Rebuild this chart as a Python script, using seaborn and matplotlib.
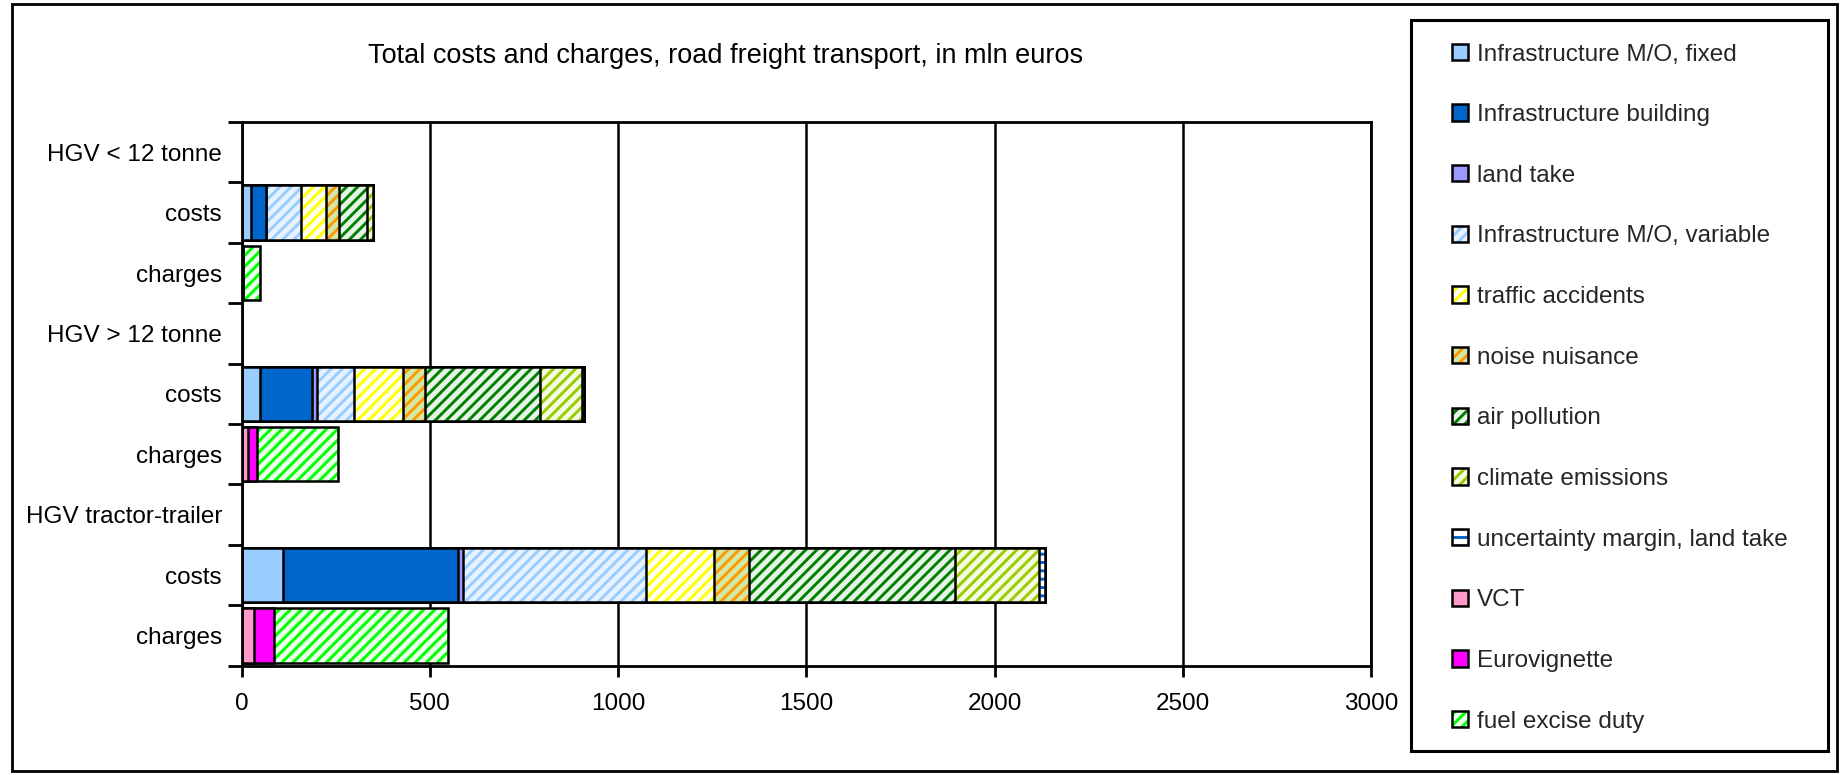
import numpy as np
import pandas as pd
import matplotlib
matplotlib.use("Agg")
import matplotlib.pyplot as plt
import seaborn as sns
from matplotlib.patches import Patch, Rectangle

# ---------------- data ----------------
row_labels = ["HGV < 12 tonne", "costs", "charges",
              "HGV > 12 tonne", "costs", "charges",
              "HGV tractor-trailer", "costs", "charges"]
row_keys = [f"r{i}" for i in range(len(row_labels))]
bar_rows = ["r1", "r2", "r4", "r5", "r7", "r8"]

series = ["Infrastructure M/O, fixed", "Infrastructure building", "land take",
          "Infrastructure M/O, variable", "traffic accidents", "noise nuisance",
          "air pollution", "climate emissions", "uncertainty margin, land take",
          "VCT", "Eurovignette", "fuel excise duty"]

costs_lt12   = [26, 40, 0, 93, 65, 34, 75, 15, 0, 0, 0, 0]
charges_lt12 = [0, 0, 0, 0, 0, 0, 0, 0, 0, 3, 0, 47]
costs_gt12   = [50, 138, 12, 100, 130, 57, 306, 112, 4, 0, 0, 0]
charges_gt12 = [0, 0, 0, 0, 0, 0, 0, 0, 0, 16, 25, 216]
costs_tt     = [109, 467, 12, 487, 181, 91, 548, 223, 16, 0, 0, 0]
charges_tt   = [0, 0, 0, 0, 0, 0, 0, 0, 0, 34, 51, 464]

x_ticks = [0, 500, 1000, 1500, 2000, 2500, 3000]
title = "Total costs and charges, road freight transport, in mln euros"

# ---------------- styles ----------------
faces = ["#99CCFF", "#0066CC", "#9999FF", "#E6F2FF", "#FFFFF0", "#D2E9A6",
         "#E6F3E6", "#F4FAE2", "#FFFFFF", "#FF99CC", "#FF00FF", "#E8FFE8"]
hatches = [None, None, None, "///", "///", "///", "///", "///", "--", None, None, "///"]
hcols = ["#99CCFF", "#0066CC", "#9999FF", "#99CCFF", "#FFFF00", "#FF9900",
         "#008000", "#99CC00", "#0066CC", "#FF99CC", "#FF00FF", "#00FF00"]

sns.set_theme(style="white")
plt.rcParams["font.family"] = ["Liberation Sans", "DejaVu Sans"]
plt.rcParams["hatch.linewidth"] = 2.1

W, H = 1843, 775
fig = plt.figure(figsize=(W / 100, H / 100), dpi=100)
ax = fig.add_axes([241.5 / W, 1 - 665.7 / H, (1371 - 241.5) / W, (665.7 - 122) / H])

mat = np.array([costs_lt12, charges_lt12, costs_gt12, charges_gt12, costs_tt, charges_tt], dtype=float)
cum = np.cumsum(mat, axis=1)

bw = 0.9
for k in reversed(range(len(series))):
    d = pd.DataFrame({"row": bar_rows, "value": cum[:, k]})
    sns.barplot(data=d, x="value", y="row", order=row_keys, orient="h",
                color=faces[k], saturation=1, hatch=hatches[k],
                edgecolor=hcols[k], linewidth=0, width=bw, errorbar=None, ax=ax)
    sns.barplot(data=d, x="value", y="row", order=row_keys, orient="h",
                fill=False, color="black", edgecolor="black", linewidth=1.8,
                width=bw, errorbar=None, ax=ax)

ax.set_xlabel("")
ax.set_ylabel("")
ax.set_xlim(0, 3000)
ax.set_xticks(x_ticks)
ax.set_xticklabels([str(t) for t in x_ticks])
ax.set_yticks(range(len(row_labels)))
ax.set_yticklabels(row_labels)
ax.set_yticks(np.arange(-0.5, len(row_labels), 1), minor=True)
ax.set_ylim(len(row_labels) - 0.5, -0.5)
ax.tick_params(axis="y", which="major", length=0, pad=14, labelsize=17.5, labelcolor="black")
ax.tick_params(axis="y", which="minor", length=10, width=2, color="black", direction="out", left=True)
ax.tick_params(axis="x", which="major", length=8, width=2, color="black", direction="out",
               bottom=True, pad=12, labelsize=17.5, labelcolor="black")
ax.xaxis.grid(True, color="black", linewidth=1.8)
ax.yaxis.grid(False)
ax.set_axisbelow(True)
for s in ax.spines.values():
    s.set_visible(True)
    s.set_color("black")
    s.set_linewidth(2)

fig.text(726 / W, 1 - 56 / H, title, ha="center", va="center", fontsize=19.5, color="black")

# legend
handles = []
for k in range(len(series)):
    p1 = Patch(facecolor=faces[k], hatch=hatches[k], edgecolor=hcols[k], linewidth=0)
    p2 = Patch(facecolor="none", edgecolor="black", linewidth=1.8)
    handles.append((p1, p2))
fig.legend(handles, series, loc="upper left", bbox_to_anchor=(1452 / W, 1 - 43.5 / H),
           frameon=False, fontsize=17.5, handlelength=0.66, handleheight=0.66,
           handletextpad=0.35, labelspacing=1.59, borderpad=0, borderaxespad=0)

fig.patches.append(Rectangle((1411 / W, 1 - 751 / H), (1828 - 1411) / W, (751 - 20) / H,
                             transform=fig.transFigure, fill=False, ec="black", lw=2.2))
fig.patches.append(Rectangle((12 / W, 1 - 771 / H), (1837 - 12) / W, (771 - 3.5) / H,
                             transform=fig.transFigure, fill=False, ec="black", lw=2))

fig.savefig("out.png", dpi=100)
